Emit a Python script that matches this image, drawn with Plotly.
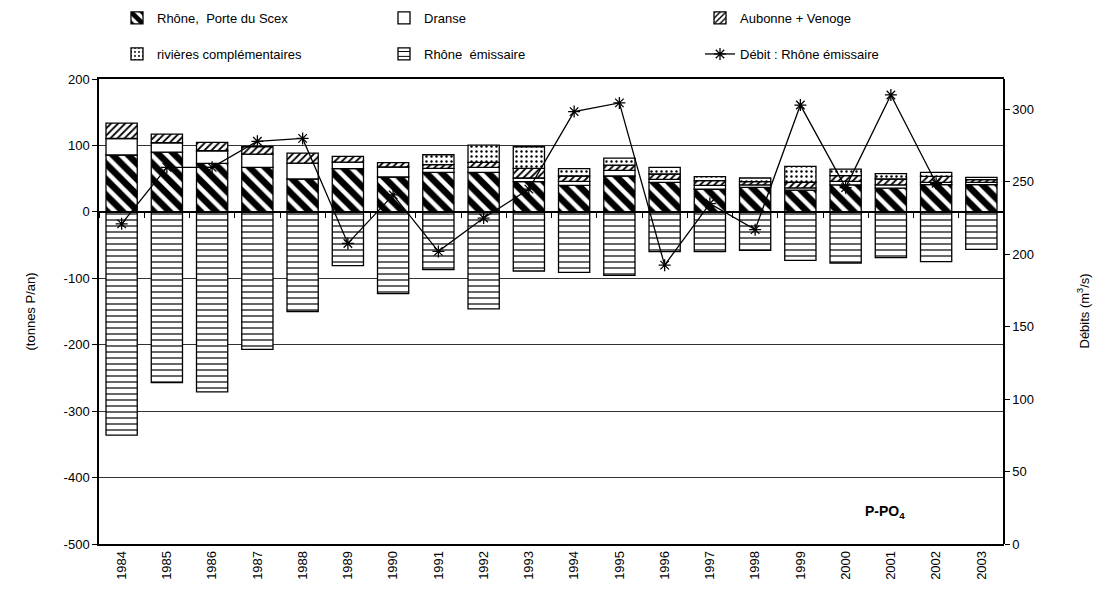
import plotly.graph_objects as go

# Apports et exportation de phosphore (P-PO4), Léman 1984-2003
years = [str(y) for y in range(1984, 2004)]

rhone_scex = [85.6, 90, 73, 67, 49.5, 65, 52.5, 59.5, 59.5, 45.5,
              40, 54, 44.5, 34, 37, 32.7, 40.6, 35.6, 41, 41]
dranse = [24.8, 14, 19, 20, 24, 10, 15, 6, 7.5, 5.5,
          6, 8.5, 4.5, 6, 3.5, 3.5, 5.4, 5, 3.5, 3.5]
aubonne_venoge = [23.3, 13, 12.5, 11, 15, 8.5, 6.5, 5.5, 7.5, 14.5,
                  8, 8, 8, 7, 5, 8.4, 8.4, 8.9, 8.9, 4]
rivieres_compl = [None, None, None, None, None, None, None, 15, 26, 32.5,
                  11, 10.5, 10, 6, 5.5, 24, 10, 8, 6, 3.5]
rhone_emissaire = [-336, -257, -271, -207, -150, -81, -123, -87, -146, -89,
                   -91, -95.5, -60, -60, -58, -73, -77, -69, -75, -56.6]
debit_emissaire = [221, 260, 260, 278, 280, 207.5, 241, 202, 225, 245,
                   298.5, 304.5, 192.5, 235, 217, 303, 246, 310, 249, None]

Y_RANGE = [-500, 200]
Y2_RANGE = [0, 321]
FONT = "Liberation Sans, Arial, sans-serif"
W, H = 1099, 594
M_L, M_R, M_T, M_B = 99, 95, 79, 50
PLOT_W = W - M_L - M_R

fig = go.Figure()


def add_bar(name, values, pattern, legend):
    fig.add_trace(go.Bar(
        x=years, y=values, name=name, legend=legend,
        marker=dict(color="white",
                    line=dict(color="black", width=1.3),
                    pattern=pattern),
    ))


def hatch(shape, size, solidity):
    return dict(shape=shape, size=size, solidity=solidity,
                fgcolor="#000000", bgcolor="#ffffff", fgopacity=1,
                fillmode="replace")


add_bar("Rhône,  Porte du Scex", rhone_scex, hatch("\\", 11, 0.6), "legend")
add_bar("Dranse", dranse, dict(shape=""), "legend2")
add_bar("Aubonne + Venoge", aubonne_venoge, hatch("/", 5, 0.35), "legend3")
add_bar("rivières complémentaires", rivieres_compl, hatch(".", 5, 0.18), "legend4")
add_bar("Rhône  émissaire", rhone_emissaire, hatch("-", 6, 0.2), "legend5")

# Débit du Rhône émissaire sur l'axe secondaire
fig.add_trace(go.Scatter(
    x=years, y=debit_emissaire, name="Débit : Rhône émissaire",
    legend="legend6", xaxis="x2", yaxis="y2",
    mode="lines+markers",
    line=dict(color="black", width=1.3),
    marker=dict(symbol="asterisk-open", size=10,
                color="black", line=dict(color="black", width=1.3)),
))

n = len(years)
cat_range = [-0.5, n - 0.5]
zero_pos = (0 - Y_RANGE[0]) / (Y_RANGE[1] - Y_RANGE[0])

y_ticks = list(range(Y_RANGE[0], Y_RANGE[1] + 1, 100))
y_ticktext = [str(v) for v in y_ticks]

tick_font = dict(family=FONT, size=13, color="black")
title_font = dict(family=FONT, size=13, color="black")

legend_cols = [117, 384, 700]
legend_rows = [18, 54]
legends = {}
for i, key in enumerate(["legend", "legend2", "legend3", "legend4", "legend5", "legend6"]):
    col = legend_cols[i % 3]
    row = legend_rows[i // 3]
    legends[key] = dict(
        xref="container", yref="container",
        x=col / W, y=1 - row / H,
        xanchor="left", yanchor="middle",
        bgcolor="rgba(0,0,0,0)", borderwidth=0,
        font=dict(family=FONT, size=13, color="black"),
    )

fig.update_layout(
    width=W, height=H,
    margin=dict(l=M_L, r=M_R, t=M_T, b=M_B, autoexpand=False),
    paper_bgcolor="white", plot_bgcolor="white",
    barmode="relative", bargap=0.31,
    showlegend=True,
    font=dict(family=FONT, size=13, color="black"),
    xaxis=dict(
        type="category", categoryorder="array", categoryarray=years,
        range=cat_range, domain=[0, 1], automargin=False,
        tickangle=-90, ticks="", tickfont=tick_font,
        showline=True, linecolor="black", linewidth=1.5, mirror=True,
        showgrid=False,
    ),
    xaxis2=dict(
        type="category", categoryorder="array", categoryarray=years,
        range=cat_range, domain=[0, 1], automargin=False,
        overlaying="x", anchor="free", position=zero_pos,
        tickson="boundaries", ticks="outside", ticklen=5,
        tickcolor="black", tickwidth=1,
        showticklabels=False,
        showline=True, linecolor="black", linewidth=1.5,
        showgrid=False,
    ),
    yaxis=dict(
        range=Y_RANGE, tickvals=y_ticks, ticktext=y_ticktext,
        tickfont=tick_font, automargin=False,
        ticks="outside", ticklen=5, tickcolor="black",
        showline=True, linecolor="black", linewidth=1.5,
        showgrid=True, gridcolor="#333333", gridwidth=1,
        zeroline=False,
    ),
    yaxis2=dict(
        range=Y2_RANGE, dtick=50, tickfont=tick_font, automargin=False,
        overlaying="y", side="right", anchor="free", position=1,
        ticks="outside", ticklen=5, tickcolor="black",
        showline=True, linecolor="black", linewidth=1.5,
        showgrid=False, zeroline=False,
    ),
    annotations=[
        dict(text="<b>P-PO<sub>4</sub></b>", xref="paper", yref="paper",
             x=0.868, y=0.069, xanchor="center", yanchor="middle",
             showarrow=False, font=dict(family=FONT, size=14, color="black")),
        dict(text="(tonnes P/an)", xref="paper", yref="paper",
             x=(30 - M_L) / PLOT_W, y=0.5, xanchor="center", yanchor="middle",
             textangle=-90, showarrow=False, font=title_font),
        dict(text="Débits (m<sup>3</sup>/s)", xref="paper", yref="paper",
             x=(1083 - M_L) / PLOT_W, y=0.5, xanchor="center", yanchor="middle",
             textangle=-90, showarrow=False, font=title_font),
    ],
    **legends,
)

fig.write_html("out.html")
